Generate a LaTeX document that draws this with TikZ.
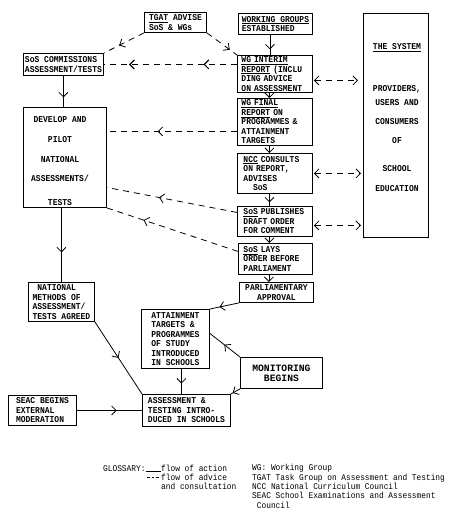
\documentclass[tikz,border=0pt]{standalone}
\usepackage{fontspec}
\newfontfamily\tw[FakeStretch=0.89]{Liberation Mono}
\newfontfamily\twn{Liberation Mono}
\usetikzlibrary{arrows.meta,decorations.markings}
\begin{document}
\begin{tikzpicture}[x=1pt,y=-1pt,
  box/.style={draw, line width=0.9pt, anchor=north west, inner xsep=0pt, inner ysep=0pt, align=left, font=\tw\bfseries\fontsize{9}{9.5}\selectfont},
  txt/.style={inner sep=0pt, align=center, font=\tw\bfseries\fontsize{9}{9.5}\selectfont},
  act/.style={line width=0.8pt},
  adv/.style={line width=0.8pt, dash pattern=on 6pt off 5pt},
  midar/.style={postaction={decorate}, decoration={markings, mark=at position #1 with {\arrow{Straight Barb[length=4.5pt,width=9pt]}}}},
  endar/.style={-{Straight Barb[length=4.5pt,width=9pt]}},
  dblar/.style={{Straight Barb[length=4.5pt,width=9pt]}-{Straight Barb[length=4.5pt,width=9pt]}},
  gl/.style={font=\tw\fontsize{8.8}{9.4}\selectfont, inner sep=0pt, anchor=base west},
]
\useasboundingbox (0,0) rectangle (450,518);

% boxes
\node[box, minimum width=62pt, minimum height=20pt] (tgat) at (144,12) {\underline{TGAT} ADVISE\\SoS \& WGs};
\node[box, minimum width=74pt, minimum height=21pt] (work) at (238,13) {\underline{WORKING GROUPS}\\ESTABLISHED};
\node[box, minimum width=80pt, minimum height=22pt] (sosc) at (23,53) {SoS COMMISSIONS\\ASSESSMENT/TESTS};
\node[box, text width=67pt, inner xsep=4pt, minimum height=37pt] (interim) at (237,55) {\underline{WG INTERIM}\\\underline{REPORT} (INCLU\\DING ADVICE\\ON ASSESSMENT};
\node[box, text width=67pt, inner xsep=4pt, minimum height=47pt] (final) at (237,98) {\underline{WG FINAL}\\\underline{REPORT} ON\\PROGRAMMES \&\\ATTAINMENT\\TARGETS};
\node[box, text width=63pt, inner xsep=6pt, minimum height=40pt] (ncc) at (237,153) {\underline{NCC} CONSULTS\\ON REPORT,\\ADVISES\\\phantom{XX}SoS};
\node[box, text width=63pt, inner xsep=6pt, minimum height=30pt] (pub) at (237,206) {\underline{SoS} PUBLISHES\\DRAFT ORDER\\FOR COMMENT};
\node[box, text width=64pt, inner xsep=5pt, minimum height=31pt] (lays) at (238,243) {\underline{SoS} LAYS\\ORDER BEFORE\\PARLIAMENT};
\node[box, align=center, minimum width=74pt, minimum height=20pt] (parl) at (239,282) {PARLIAMENTARY\\APPROVAL};
\node[box, minimum width=66pt, minimum height=39pt] (natl) at (28,282) {\phantom{X}NATIONAL\\METHODS OF\\ASSESSMENT/\\TESTS AGREED};
\node[box, minimum width=68pt, minimum height=59pt] (attain) at (141,309) {ATTAINMENT\\TARGETS \&\\PROGRAMMES\\OF STUDY\\INTRODUCED\\IN SCHOOLS};
\node[box, minimum width=88pt, minimum height=32pt] (assess) at (142,394) {ASSESSMENT \&\\TESTING INTRO-\\DUCED IN SCHOOLS};
\node[box, minimum width=68pt, minimum height=30pt] (seac) at (8,395) {SEAC BEGINS\\EXTERNAL\\MODERATION};
\node[box, align=center, minimum width=82pt, minimum height=31pt, font=\twn\bfseries\fontsize{9.7}{10}\selectfont] (mon) at (240,357) {MONITORING\\BEGINS};
\node[box, minimum width=83pt, minimum height=100pt] (dev) at (23,107) {};
\node[txt] (devtxt) at (60,161) {DEVELOP AND\\[10pt]PILOT\\[10.5pt]NATIONAL\\[9.5pt]ASSESSMENTS/\\[14.5pt]TESTS};
\node[box, minimum width=65pt, minimum height=224pt] (sys) at (363,13) {};
\node[txt] (systxt) at (397,118) {\underline{THE SYSTEM}\\[32.5pt]PROVIDERS,\\[4.5pt]USERS AND\\[9.5pt]CONSUMERS\\[9.5pt]OF\\[18.5pt]SCHOOL\\[10.5pt]EDUCATION};

% flow of action
\draw[act, midar=0.69] (sosc.south) -- (sosc.south |- dev.north);
\draw[act, midar=0.72] ([xshift=-5.5pt]work.south) -- ([xshift=-5.5pt]work.south |- interim.north);
\draw[act, endar] ([xshift=-5.5pt]interim.south) -- ([xshift=-5.5pt]interim.south |- final.north);
\draw[act, endar] ([xshift=-5.5pt]final.south) -- ([xshift=-5.5pt]final.south |- ncc.north);
\draw[act, midar=0.7] ([xshift=-5.5pt]ncc.south) -- ([xshift=-5.5pt]ncc.south |- pub.north);
\draw[act, endar] ([xshift=-5.5pt]pub.south) -- ([xshift=-5.5pt]pub.south |- lays.north);
\draw[act, endar] ([xshift=-6.5pt]lays.south) -- ([xshift=-6.5pt]lays.south |- parl.north);
\draw[act, midar=0.67] (parl.south west) -- (attain.north east);
\draw[act, midar=0.6] (natl.north |- dev.south) -- (natl.north);
\draw[act, midar=0.5] (natl.south east) -- (assess.north west);
\draw[act, midar=0.58] ([xshift=6pt]attain.south) -- ([xshift=6pt]attain.south |- assess.north);
\draw[act, midar=0.52] (mon.north west) -- ([yshift=5.5pt]attain.east);
\draw[act, midar=0.8] (mon.south west) -- (assess.north east);
\draw[act, midar=0.61] (seac.east) -- (seac.east -| assess.west);

% flow of advice
\draw[adv, midar=0.62] (tgat.south west) -- (sosc.north east);
\draw[adv, midar=0.76] (tgat.south east) -- (interim.north west);
\draw[adv, midar=0.25, midar=0.81] (interim.west |- sosc.east) -- (sosc.east);
\coordinate (fw) at ([yshift=-9.5pt]final.west);
\draw[adv, midar=0.61] (fw) -- (fw -| dev.east);
\draw[adv, midar=0.6] ([yshift=9pt]pub.west) -- ([yshift=-30pt]dev.east);
\draw[adv, midar=0.72] ([yshift=7.5pt]lays.west) -- (dev.south east);
\coordinate (ie) at ([yshift=-6.5pt]interim.east);
\draw[adv, dblar, shorten <=1pt, shorten >=5pt] (ie) -- (ie -| sys.west);
\draw[adv, dblar, shorten <=1pt, shorten >=2pt] (ncc.east) -- (ncc.east -| sys.west);
\coordinate (pe) at ([yshift=-4pt]pub.east);
\draw[adv, dblar, shorten <=1pt, shorten >=2pt] (pe) -- (pe -| sys.west);

% glossary
\node[gl] (glos) at (103,471) {GLOSSARY:};
\node[gl] (gact) at (161,471) {flow of action};
\node[gl] (gadv) at (161,480) {flow of advice};
\node[gl] (gcon) at (161,489) {and consultation};
\draw[line width=0.7pt] (glos.base east) -- (gact.base west);
\draw[line width=0.7pt, dash pattern=on 2.5pt off 2pt] ([xshift=-14pt,yshift=3pt]gadv.base west) -- ([xshift=-0.5pt,yshift=3pt]gadv.base west);
\node[gl] (gwg) at (252,470.5) {WG: Working Group};
\node[gl] (gtgat) at (252,480) {TGAT Task Group on Assessment and Testing};
\node[gl] (gncc) at (252,489) {NCC National Curriculum Council};
\node[gl] (gseac) at (252,498.5) {SEAC School Examinations and Assessment};
\node[gl] (gcouncil) at (256.7,508) {Council};
\end{tikzpicture}
\end{document}
